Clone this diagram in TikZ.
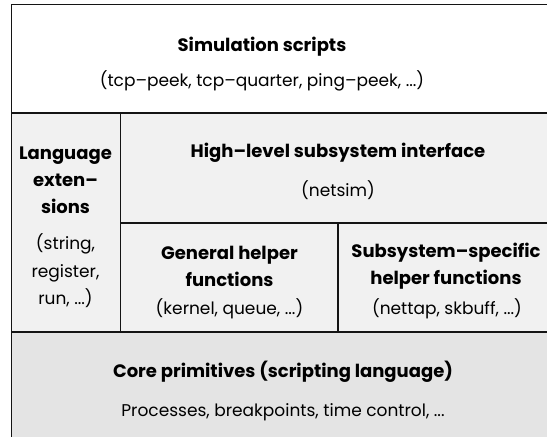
\documentclass[tikz,border=0pt]{standalone}
\usepackage{fontspec}
\setmainfont{Poppins}
\definecolor{midgray}{HTML}{F1F1F1}
\definecolor{coregray}{HTML}{E4E4E4}
\definecolor{rulecol}{HTML}{141414}
\begin{document}
\begin{tikzpicture}[x=1pt,y=-1pt,
  rule/.style={line width=1.3pt, draw=rulecol},
  ttl/.style={font=\fontsize{18}{27}\selectfont\bfseries, align=center, inner sep=0pt},
  sub/.style={font=\fontsize{17}{27.5}\selectfont, align=center, inner sep=0pt}]
\useasboundingbox (0,0) rectangle (547,437);
\fill[white] (0,0) rectangle (547,437);
\fill[midgray] (11.5,113) rectangle (547,332);
\fill[coregray] (11.5,332) rectangle (547,437);
% frame lines
\coordinate (tl) at (11.5,4.5);
\coordinate (tr) at (547,4.5);
\coordinate (bl) at (11.5,437);
\coordinate (l1) at (11.5,113);
\coordinate (r1) at (547,113);
\coordinate (l3) at (11.5,332);
\coordinate (r3) at (547,332);
\coordinate (v1t) at (120.5,113);
\coordinate (v1b) at (120.5,332);
\coordinate (m2r) at (547,223);
\coordinate (m2l) at (120.5,223);
\coordinate (v2t) at (338,223);
\coordinate (v2b) at (338,332);
\draw[rule, line cap=rect] (bl) -- (tl) -- (tr);
\draw[rule] (l1) -- (r1);
\draw[rule] (l3) -- (r3);
\draw[rule] (v1t) -- (v1b);
\draw[rule] (m2l) -- (m2r);
\draw[rule] (v2t) -- (v2b);
% texts
\node[ttl] (simt) at (262,47) {Simulation scripts};
\node[sub] (sims) at (262,81) {(tcp–peek, tcp–quarter, ping–peek, ...)};
\node[ttl] (langt) at (65.5,180) {Language\\exten–\\sions};
\node[sub] (langs) at (65.5,271) {(string,\\register,\\run, ...)};
\node[ttl] (hit) at (338,153) {High–level subsystem interface};
\node[sub] (his) at (338,190) {(netsim)};
\node[ttl] (gent) at (229.5,266.5) {General helper\\functions};
\node[sub] (gens) at (229.5,309) {(kernel, queue, ...)};
\node[ttl] (subt) at (446,266.5) {Subsystem–specific\\helper functions};
\node[sub] (subs) at (447,309) {(nettap, skbuff, ...)};
\node[ttl] (coret) at (283,372) {Core primitives (scripting language)};
\node[sub] (cores) at (283,412) {Processes, breakpoints, time control, ...};
\end{tikzpicture}
\end{document}
